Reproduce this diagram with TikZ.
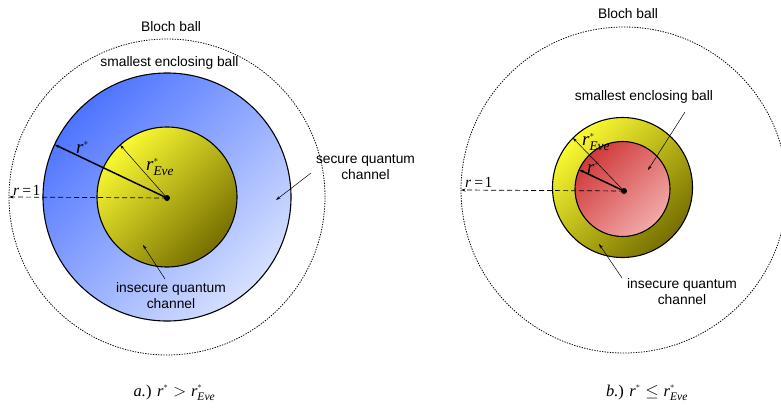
\documentclass[tikz,border=0pt]{standalone}
\usepackage{fontspec}
\usepackage{amsmath}
\setmainfont{Liberation Serif}
\newfontfamily\labelfont{Liberation Sans}
\usetikzlibrary{arrows.meta}
\definecolor{blueA}{RGB}{78,116,255}
\definecolor{blueB}{RGB}{214,224,255}
\definecolor{yelA}{RGB}{250,250,50}
\definecolor{yelB}{RGB}{118,110,0}
\definecolor{redA}{RGB}{208,58,58}
\definecolor{redB}{RGB}{242,170,170}
\newcommand\mystar{{\raisebox{1.5pt}{$\scriptscriptstyle\ast$}}}
\begin{document}
\begin{tikzpicture}[x=1pt,y=-1pt,
  lbl/.style={font=\labelfont\fontsize{13.8}{16}\selectfont, align=center, inner sep=0pt},
  mth/.style={font=\fontsize{19}{22}\selectfont, inner sep=0pt, anchor=base west},
  rone/.style={font=\fontsize{15.5}{18}\selectfont, inner sep=0pt, anchor=base west},
  captext/.style={font=\fontsize{16.5}{19}\selectfont, inner sep=0pt},
  ball/.style={circle, draw=black, line width=1.1pt, inner sep=0pt, outer sep=0pt},
  blochball/.style={circle, draw=black, line width=0.8pt, dash pattern=on 1.3pt off 1.3pt, inner sep=0pt, outer sep=0pt},
  centredot/.style={circle, fill=black, minimum size=6pt, inner sep=0pt, outer sep=0pt},
  tip/.style={-{Stealth[length=4.5pt,width=3pt]}},
  thin arrow/.style={tip, line width=0.5pt},
  thick arrow/.style={tip, line width=1.5pt},
  dash arrow/.style={tip, line width=0.7pt, dash pattern=on 5pt off 3pt},
  note arrow/.style={tip, line width=0.5pt}]
\useasboundingbox (0,0) rectangle (781,412);

% ---------- left: a ----------
\node[blochball, minimum size=316pt] (blA) at (167,197) {};
\node[ball, minimum size=248pt, shade, top color=blueA, bottom color=blueB, shading angle=45] (secA) at (167,197) {};
\node[ball, minimum size=140pt, shade, top color=yelA, bottom color=yelB, shading angle=45] (eveA) at (167,197) {};
\node[centredot] (cA) at (167,198) {};

\draw[dash arrow] (cA.center) -- (blA.west);
\draw[thick arrow] (cA.center) -- (secA.155.8);
\draw[thin arrow] (cA.center) -- (eveA.132);

\node[lbl] (tBlochA) at (171,26.5) {Bloch ball};
\node[lbl] (tSmallA) at (169.5,62.5) {smallest enclosing ball};
\node[lbl] (tSecA) at (365.5,167) {secure quantum\\channel};
\node[lbl] (tInsA) at (171,295.5) {insecure quantum\\channel};
\node[mth] (lrA) at (76,153) {$\textit{r}^{\mystar}$};
\node[mth] (lrEA) at (146,170) {$\textit{r}^{\mystar}_{\textit{Eve}}$};
\node[rone] (lr1A) at (13,195) {\textit{r}\hspace{3pt}=\hspace{1.5pt}1};

\coordinate (sA1) at (311,173);
\coordinate (sA2) at (276,200);
\draw[note arrow] (sA1) -- (sA2);
\coordinate (iA1) at (165,279);
\coordinate (iA2) at (143,245);
\draw[note arrow] (iA1) -- (iA2);

\node[captext] (capA) at (174.5,393) {\textit{a.}) $\textit{r}^{\mystar}>\textit{r}^{\mystar}_{\textit{Eve}}$};

% ---------- right: b ----------
\node[blochball, minimum size=326pt] (blB) at (624,190) {};
\node[ball, minimum size=140pt, shade, top color=yelA, bottom color=yelB, shading angle=45] (eveB) at (622.5,187.5) {};
\node[ball, minimum size=95pt, shade, top color=redA, bottom color=redB, shading angle=45] (secB) at (622.5,189) {};
\node[centredot] (cB) at (624,191) {};

\draw[dash arrow] (cB.center) -- (blB.west);
\draw[thin arrow] (cB.center) -- (eveB.135.5);
\draw[thick arrow] (cB.center) -- (secB.156.6);

\node[lbl] (tBlochB) at (628,14) {Bloch ball};
\node[lbl] (tSmallB) at (644,97) {smallest enclosing ball};
\node[lbl] (tInsB) at (682,292) {insecure quantum\\channel};
\node[mth] (lrEB) at (582,145) {$\textit{r}^{\mystar}_{\textit{Eve}}$};
\node[mth] (lrB) at (587,173) {$\textit{r}^{\mystar}$};
\node[rone] (lr1B) at (465,187) {\textit{r}\hspace{3pt}=\hspace{1.5pt}1};

\coordinate (mB1) at (685,112);
\coordinate (mB2) at (648,170);
\draw[note arrow] (mB1) -- (mB2);
\coordinate (iB1) at (622,278);
\coordinate (iB2) at (599,244);
\draw[note arrow] (iB1) -- (iB2);

\node[captext] (capB) at (647,393) {\textit{b.}) $\textit{r}^{\mystar}\leq\textit{r}^{\mystar}_{\textit{Eve}}$};
\end{tikzpicture}
\end{document}
